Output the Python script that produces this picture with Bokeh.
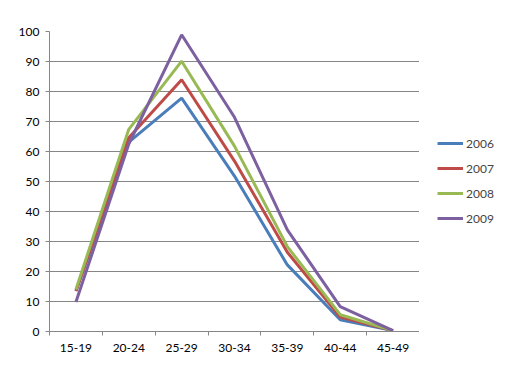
from bokeh.plotting import figure
from bokeh.layouts import row
from bokeh.models import Range1d, FixedTicker, Legend, LegendItem
from bokeh.embed import file_html
from bokeh.resources import INLINE

categories = ["15-19", "20-24", "25-29", "30-34", "35-39", "40-44", "45-49"]
y_ticks = [0, 10, 20, 30, 40, 50, 60, 70, 80, 90, 100]
s2006 = [13.5, 63.1, 77.8, 51.8, 22.2, 3.9, 0.3]
s2007 = [13.5, 64.6, 83.9, 56.8, 26.4, 4.8, 0.3]
s2008 = [14.0, 67.4, 90.1, 61.8, 28.3, 5.6, 0.3]
s2009 = [9.8, 62.5, 98.9, 71.4, 33.9, 8.3, 0.3]
series_names = ["2006", "2007", "2008", "2009"]
series = [s2006, s2007, s2008, s2009]
colors = ["#4A7EBB", "#BE4B48", "#98B954", "#7D60A0"]

FONT = "Lato"
GRID = "#868686"

n = len(categories)
xs = [i + 0.5 for i in range(n)]

p = figure(width=419, height=379, output_backend="svg", toolbar_location=None,
           x_range=Range1d(0, n), y_range=Range1d(0, 100),
           min_border_left=49, min_border_top=31, min_border_right=0, min_border_bottom=48)
p.outline_line_color = None
p.xgrid.grid_line_color = None
p.ygrid.grid_line_color = GRID
p.ygrid.ticker = FixedTicker(ticks=y_ticks)

p.xaxis.ticker = FixedTicker(ticks=xs, minor_ticks=list(range(n + 1)))
p.xaxis.major_label_overrides = {x: c for x, c in zip(xs, categories)}
p.xaxis.major_tick_out = 0
p.xaxis.major_tick_in = 0
p.xaxis.minor_tick_out = 4
p.xaxis.minor_tick_in = 0
p.xaxis.minor_tick_line_color = GRID
p.xaxis.axis_line_color = GRID
p.xaxis.major_label_standoff = 8

p.yaxis.ticker = FixedTicker(ticks=y_ticks)
p.yaxis.major_tick_out = 4
p.yaxis.major_tick_in = 0
p.yaxis.minor_tick_line_color = None
p.yaxis.major_tick_line_color = GRID
p.yaxis.axis_line_color = GRID
p.yaxis.major_label_standoff = 6

for ax in (p.xaxis, p.yaxis):
    ax.major_label_text_font = FONT
    ax.major_label_text_font_size = "12px"
    ax.major_label_text_color = "#000000"

for vals, c in zip(series, colors):
    p.line(xs, vals, line_color=c, line_width=3)

# legend panel to the right of the plot area; its series lie outside its view
lg = figure(width=80, height=379, output_backend="svg", toolbar_location=None,
            x_range=Range1d(-20, -19), y_range=Range1d(0, 100),
            x_axis_type=None, y_axis_type=None,
            min_border_left=0, min_border_right=0, min_border_top=0, min_border_bottom=0)
lg.outline_line_color = None
lg.xgrid.visible = False
lg.ygrid.visible = False
items = []
for name, vals, c in zip(series_names, series, colors):
    r = lg.line(xs, vals, line_color=c, line_width=3)
    items.append(LegendItem(label=name, renderers=[r]))

legend = Legend(items=items, location=(18, 103), padding=0, margin=0,
                border_line_color=None, background_fill_alpha=0,
                glyph_width=26, glyph_height=20, label_height=20, spacing=5,
                label_standoff=3, label_text_font=FONT, label_text_font_size="12px")
lg.add_layout(legend, "center")

layout = row(p, lg, spacing=0)
open("out.html", "w").write(file_html(layout, INLINE))
